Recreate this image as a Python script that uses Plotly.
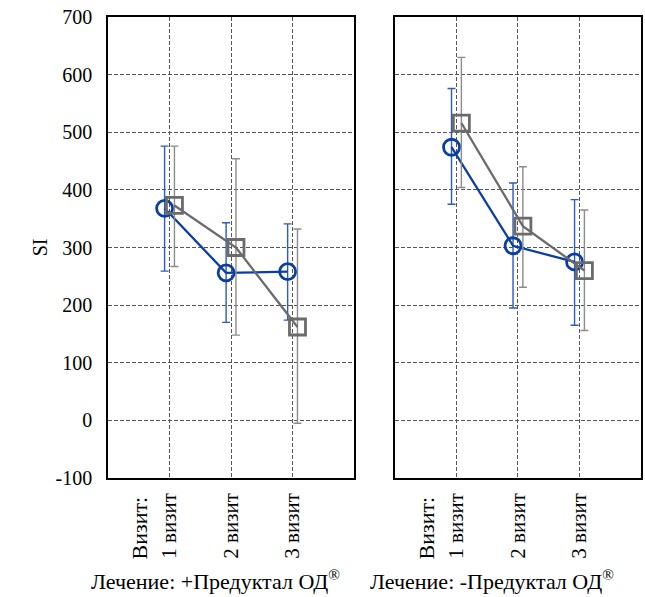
import plotly.graph_objects as go

visits = ["1 визит", "2 визит", "3 визит"]
y_ticks = [-100, 0, 100, 200, 300, 400, 500, 600, 700]
y_ticktext = ["-100", "0", "100", "200", "300", "400", "500", "600", "700"]

plus_blue_mean = [368, 256, 258]
plus_blue_lo = [259, 170, 174]
plus_blue_hi = [476, 343, 341]
plus_gray_mean = [373, 300, 162]
plus_gray_lo = [267, 148, -5]
plus_gray_hi = [476, 454, 332]

minus_blue_mean = [474, 303, 275]
minus_blue_lo = [375, 195, 165]
minus_blue_hi = [576, 412, 383]
minus_gray_mean = [516, 337, 260]
minus_gray_lo = [404, 231, 156]
minus_gray_hi = [630, 440, 365]

panel_titles = ["Лечение: +Предуктал ОД<sup>®</sup>", "Лечение: -Предуктал ОД<sup>®</sup>"]

BLUE = "#0b3ea3"
BLUE_ERR = "#2b5cc0"
GRAY = "#6b6b6b"
GRAY_ERR = "#8c8c8c"
FONT = "Liberation Serif, Times New Roman, serif"

fig = go.Figure()
pos = [1, 2, 3]
off = 0.08


def add_series(mean, lo, hi, xa, ya, color, ecolor, symbol, shift):
    xs = [p + shift for p in pos]
    fig.add_trace(go.Scatter(
        x=xs, y=mean, xaxis=xa, yaxis=ya, mode="lines+markers",
        line=dict(color=color, width=2.3),
        marker=dict(symbol=symbol, size=16, color=color,
                    line=dict(color=color, width=2.8)),
        error_y=dict(type="data", symmetric=False,
                     array=[h - m for h, m in zip(hi, mean)],
                     arrayminus=[m - l for m, l in zip(mean, lo)],
                     color=ecolor, thickness=1.4, width=4),
        showlegend=False, cliponaxis=False))


add_series(plus_blue_mean, plus_blue_lo, plus_blue_hi, "x", "y", BLUE, BLUE_ERR, "circle-open", -off)
add_series(plus_gray_mean, plus_gray_lo, plus_gray_hi, "x", "y", GRAY, GRAY_ERR, "square-open", off)
add_series(minus_blue_mean, minus_blue_lo, minus_blue_hi, "x2", "y2", BLUE, BLUE_ERR, "circle-open", -off)
add_series(minus_gray_mean, minus_gray_lo, minus_gray_hi, "x2", "y2", GRAY, GRAY_ERR, "square-open", off)

W, H = 645, 597
ml, mr, mt, mb = 108, 2, 17, 119
pw = W - ml - mr
ph = H - mt - mb
d1 = [0, (355 - ml) / pw]
d2 = [(396 - ml) / pw, 1]

GRID = "#555555"
xcommon = dict(range=[0, 4], tickvals=pos, ticktext=visits, tickangle=-90,
               showgrid=True, gridcolor=GRID, griddash="4px,2px", gridwidth=1,
               showline=True, linecolor="black", linewidth=1.5, mirror=True,
               ticks="", zeroline=False, ticklabelstandoff=5,
               tickfont=dict(family=FONT, size=21, color="black"))
ycommon = dict(range=[-100, 700], tickvals=y_ticks, ticktext=y_ticktext, showgrid=True,
               gridcolor=GRID, griddash="4px,2px", gridwidth=1,
               showline=True, linecolor="black", linewidth=1.5, mirror=True,
               ticks="", zeroline=False,
               tickfont=dict(family=FONT, size=20, color="black"))

fig.update_layout(
    width=W, height=H,
    margin=dict(l=ml, r=mr, t=mt, b=mb),
    paper_bgcolor="white", plot_bgcolor="white",
    xaxis=dict(domain=d1, anchor="y", **xcommon),
    xaxis2=dict(domain=d2, anchor="y2", **xcommon),
    yaxis=dict(anchor="x", ticklabelstandoff=10, **ycommon),
    yaxis2=dict(anchor="x2", showticklabels=False, matches="y", **ycommon),
    font=dict(family=FONT, color="black"),
)

annotations = []
annotations.append(dict(text="SI", xref="paper", yref="paper",
                        x=(40 - ml) / pw, y=(H - mb - 247) / ph,
                        xanchor="center", yanchor="middle",
                        showarrow=False, textangle=-90,
                        font=dict(family=FONT, size=20, color="black")))
for xa in ["x", "x2"]:
    annotations.append(dict(text="Визит:", xref=xa, yref="paper", x=0.52,
                            y=(H - mb - 494) / ph, xanchor="center", yanchor="top",
                            showarrow=False, textangle=-90,
                            font=dict(family=FONT, size=22, color="black")))
for cx, t in zip([216, 493], panel_titles):
    annotations.append(dict(text=t, xref="paper", yref="paper",
                            x=(cx - ml) / pw, y=(H - mb - 580) / ph,
                            xanchor="center", yanchor="middle",
                            showarrow=False,
                            font=dict(family=FONT, size=22, color="black")))
fig.update_layout(annotations=annotations)

fig.write_html("out.html", config={"displayModeBar": False},
               post_script="document.body.style.margin='0';document.body.style.overflow='hidden';")
